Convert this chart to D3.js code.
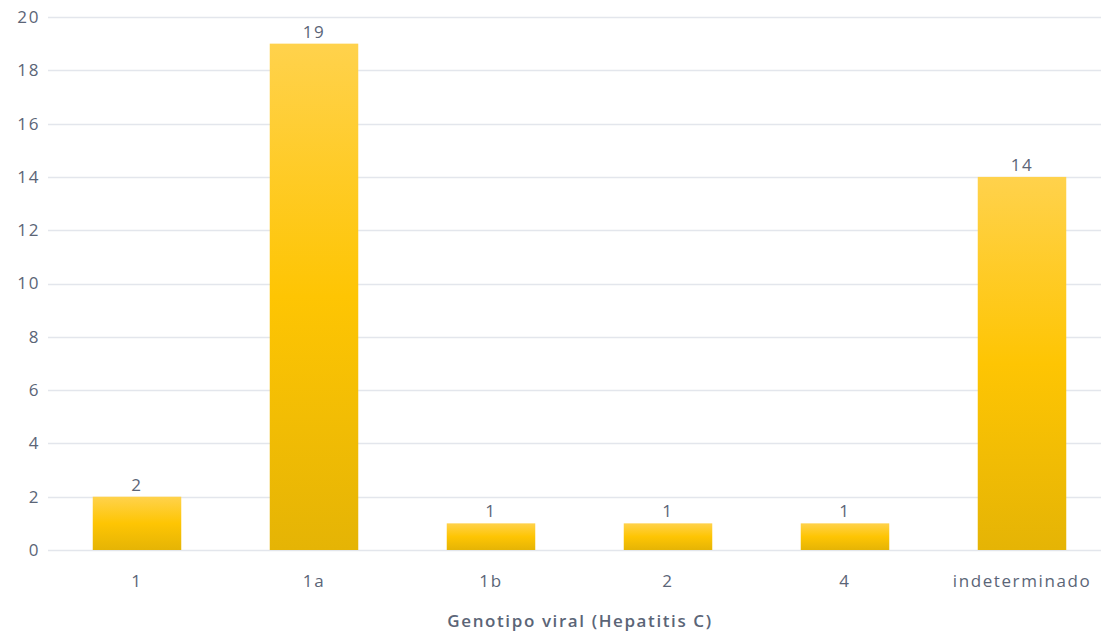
<!DOCTYPE html>
<html>
<head>
<meta charset="utf-8">
<script src="https://cdn.jsdelivr.net/npm/d3@7"></script>
<style>
  html, body { margin: 0; padding: 0; background: #fff; }
  svg { display: block; font-family: "Open Sans", "Noto Sans", sans-serif; }
  text { letter-spacing: 1.6px; }
</style>
</head>
<body>
<svg id="chart" width="1101" height="635"></svg>
<script>
const categories = ["1", "1a", "1b", "2", "4", "indeterminado"];
const counts = [2, 19, 1, 1, 1, 14];
const yTicks = [0, 2, 4, 6, 8, 10, 12, 14, 16, 18, 20];
const xTitle = "Genotipo viral (Hepatitis C)";

const svg = d3.select("#chart");
const W = 1101;
const textColor = "#5b6577";
const fontSize = 17;

const x = d3.scaleBand().domain(categories).range([48.5, 1110.5]).paddingInner(0.5).paddingOuter(0.25);
const y = d3.scaleLinear().domain([0, 20]).range([550, 17]);

const defs = svg.append("defs");
const grad = defs.append("linearGradient").attr("id", "barGrad")
  .attr("x1", 0).attr("y1", 0).attr("x2", 0).attr("y2", 1);
grad.append("stop").attr("offset", "0%").attr("stop-color", "#ffd24c");
grad.append("stop").attr("offset", "50%").attr("stop-color", "#fec503");
grad.append("stop").attr("offset", "100%").attr("stop-color", "#e5b405");

// horizontal grid lines
svg.append("g").selectAll("line").data(yTicks).join("line")
  .attr("x1", 48).attr("x2", W)
  .attr("y1", d => Math.round(y(d)) + 0.5).attr("y2", d => Math.round(y(d)) + 0.5)
  .attr("stroke", "#e3e6ec").attr("stroke-width", 1.5);

// y-axis labels
const yAxis = d3.axisLeft(y).tickValues(yTicks).tickSize(0).tickPadding(0);
svg.append("g").attr("transform", "translate(40,0)").call(yAxis)
  .call(g => g.select(".domain").remove())
  .call(g => g.selectAll("text").attr("fill", textColor).attr("font-size", fontSize)
    .attr("font-family", "'Open Sans', sans-serif"));

// bars
svg.append("g").selectAll("rect").data(categories).join("rect")
  .attr("x", d => x(d))
  .attr("width", x.bandwidth())
  .attr("y", (d, i) => y(counts[i]))
  .attr("height", (d, i) => y(0) - y(counts[i]))
  .attr("fill", "url(#barGrad)");

// value labels
svg.append("g").selectAll("text").data(categories).join("text")
  .attr("x", d => x(d) + x.bandwidth() / 2)
  .attr("y", (d, i) => y(counts[i]) - 6)
  .attr("text-anchor", "middle")
  .attr("fill", textColor).attr("font-size", fontSize)
  .text((d, i) => counts[i]);

// x-axis labels
const xAxis = d3.axisBottom(x).tickSize(0).tickPadding(0);
svg.append("g").attr("transform", "translate(0,572)").call(xAxis)
  .call(g => g.select(".domain").remove())
  .call(g => g.selectAll("text").attr("fill", textColor).attr("font-size", fontSize)
    .attr("font-family", "'Open Sans', sans-serif").attr("dy", "0.9em"));

// x-axis title
svg.append("text")
  .attr("x", 580).attr("y", 627)
  .attr("text-anchor", "middle")
  .attr("fill", textColor).attr("font-size", fontSize).attr("font-weight", 600)
  .text(xTitle);
</script>
</body>
</html>
